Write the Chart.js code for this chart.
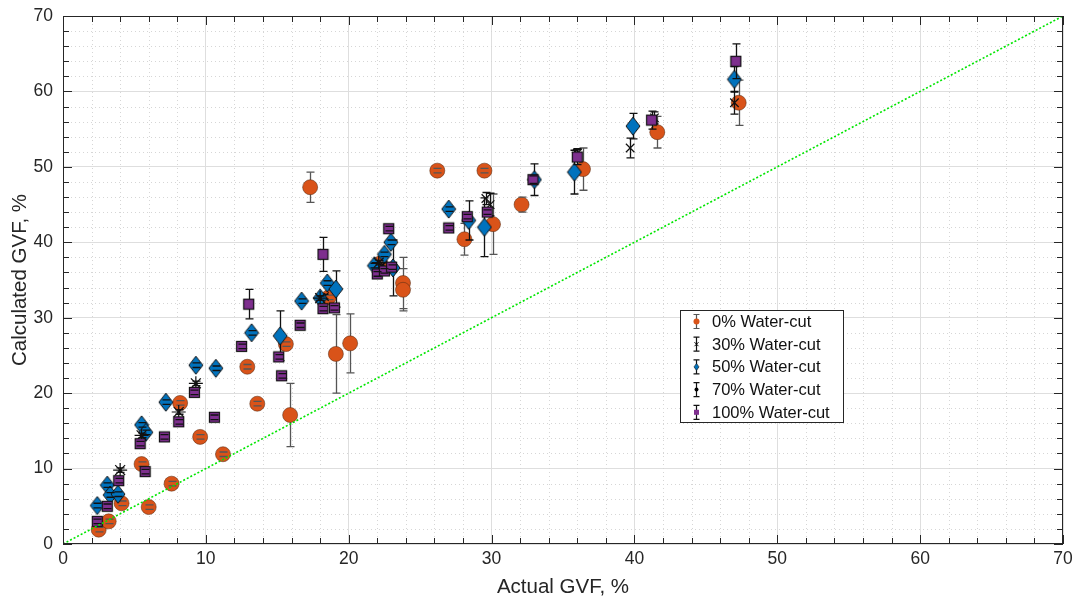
<!DOCTYPE html>
<html><head><meta charset="utf-8">
<script src="https://cdn.jsdelivr.net/npm/chart.js@4.4.1/dist/chart.umd.min.js"></script>
<style>html,body{margin:0;padding:0;background:#fff}#wrap{width:1077px;height:600px}</style>
</head><body><div id="wrap"><canvas id="c" width="1077" height="600"></canvas></div>
<script>
const xTicks=[0,10,20,30,40,50,60,70];
const yTicks=[0,10,20,30,40,50,60,70];
const seriesNames=['0% Water-cut','30% Water-cut','50% Water-cut','70% Water-cut','100% Water-cut'];

const wc0X=[2.5,3.2,4.1,6.0,7.6,5.5,11.2,9.6,8.2,13.6,15.9,12.9,15.6,19.1,20.1,17.3,18.6,22.2,23.8,23.8,26.2,29.5,32.1,28.1,30.1,36.4,41.6,47.3];
const wc0Y=[1.9,3.0,5.4,4.9,8.0,10.6,11.9,14.2,18.7,18.6,17.1,23.5,26.5,25.2,26.6,47.3,32.7,37.2,34.6,33.7,49.5,49.5,45.0,40.4,42.4,49.7,54.6,58.5];
const wc0Err=[0.3,0.3,0.3,0.3,0.3,0.3,0.3,0.3,0.3,0.3,4.2,0.3,0.3,5.2,3.9,2.0,0.3,0.3,3.4,2.8,0.3,0.3,1.0,2.1,4.0,2.8,2.1,3.0];

const wc30X=[18.3,22.4,29.6,29.9,36.0,39.7,41.4,47.0];
const wc30Y=[32.8,37.0,45.8,45.0,51.8,52.5,56.5,58.5];
const wc30Err=[0.3,0.3,0.8,1.5,0.6,1.3,0.8,1.5];

const wc50X=[2.4,3.1,3.3,3.85,5.5,5.8,7.2,9.3,10.7,13.2,15.2,16.7,18.5,19.1,18.0,21.8,22.5,22.95,23.1,27.0,28.4,29.5,33.0,35.8,39.9,47.0];
const wc50Y=[5.1,7.8,6.5,6.6,15.8,14.8,18.8,23.7,23.3,28.0,27.6,32.2,34.6,33.8,32.6,36.9,38.4,40.0,36.6,44.4,42.9,42.0,48.3,49.3,55.4,61.6];
const wc50Err=[0.3,0.3,0.3,0.3,0.3,0.3,0.3,0.3,0.3,0.3,3.3,0.3,0.3,2.4,0.3,0.3,0.3,0.3,3.7,0.3,2.6,3.9,2.1,2.9,1.7,1.7];

const wc70X=[4.0,5.5,8.1,9.3,18.0,22.1];
const wc70Y=[9.8,14.4,17.5,21.3,32.6,37.3];
const wc70Err=[0.3,0.3,0.3,0.3,0.3,0.3];

const wc100X=[2.4,3.1,3.9,5.75,5.4,7.1,8.1,9.2,10.6,12.5,13.0,15.1,15.3,16.6,18.2,18.2,19.0,22.0,22.5,22.8,23.0,27.0,28.3,29.7,32.9,36.0,41.2,47.1];
const wc100Y=[3.0,5.0,8.4,9.6,13.3,14.2,16.2,20.1,16.8,26.2,31.8,24.8,22.3,29.0,38.4,31.2,31.3,35.8,36.2,41.8,36.7,41.9,43.4,44.0,48.3,51.3,56.2,64.0];
const wc100Err=[0.3,0.3,0.3,0.3,0.3,0.3,0.3,0.3,0.3,0.3,1.95,0.3,0.3,0.3,2.25,0.3,0.3,0.3,0.3,0.3,0.3,0.3,0.3,0.3,0.5,1.0,1.2,2.3];

const diagX=[0,70], diagY=[0,70];

function pts(xs,ys){return xs.map((x,i)=>({x:x,y:ys[i]}));}

function makeDiamond(w,h,fill){const c=document.createElement('canvas');c.width=w+2;c.height=h+2;const g=c.getContext('2d');g.beginPath();g.moveTo(c.width/2,1);g.lineTo(c.width-1,c.height/2);g.lineTo(c.width/2,c.height-1);g.lineTo(1,c.height/2);g.closePath();g.fillStyle=fill;g.fill();g.strokeStyle='#111';g.lineWidth=1;g.stroke();return c;}
function makeSquare(s,fill){const c=document.createElement('canvas');c.width=s+2;c.height=s+2;const g=c.getContext('2d');g.fillStyle=fill;g.fillRect(1,1,s,s);g.strokeStyle='#111';g.lineWidth=1.2;g.strokeRect(1.5,1.5,s-1,s-1);return c;}

const diamondImg=makeDiamond(14,18,'#0072BD');
const squareImg=makeSquare(11,'#7E2F8E');

const ORANGE='#D95319', BLUE='#0072BD', PURPLE='#7E2F8E';
const FONT='"Liberation Sans", Arial, sans-serif';

function drawErr(chart,i,caps){
  const ds=chart.data.datasets[i]; if(!ds.err) return;
  const xs=chart.scales.x, ys=chart.scales.y, ctx=chart.ctx;
  ctx.save(); ctx.strokeStyle=ds.errColor; ctx.lineWidth=1.3; ctx.beginPath();
  ds.data.forEach((p,k)=>{const e=ds.err[k];const px=Math.round(xs.getPixelForValue(p.x))+0.5;
    const y1=ys.getPixelForValue(p.y+e), y2=ys.getPixelForValue(p.y-e);
    if(caps){ctx.moveTo(px-4,y1);ctx.lineTo(px+4,y1);ctx.moveTo(px-4,y2);ctx.lineTo(px+4,y2);}
    else{ctx.moveTo(px,y1);ctx.lineTo(px,y2);} });
  ctx.stroke(); ctx.restore();
}
const errPlugin={id:'err',
  beforeDatasetDraw(chart,args){drawErr(chart,args.index,false);},
  afterDatasetDraw(chart,args){drawErr(chart,args.index,true);}
};
const gridPlugin={id:'mgrid',
  beforeDatasetsDraw(chart){
    const ctx=chart.ctx, a=chart.chartArea, xs=chart.scales.x, ys=chart.scales.y;
    ctx.save(); ctx.strokeStyle='#d6d6d6'; ctx.lineWidth=1; ctx.setLineDash([1,3]);
    ctx.beginPath();
    for(let v=2;v<70;v+=2){ if(v%10===0) continue;
      const px=Math.round(xs.getPixelForValue(v))+0.5; ctx.moveTo(px,a.top); ctx.lineTo(px,a.bottom);
      const py=Math.round(ys.getPixelForValue(v))+0.5; ctx.moveTo(a.left,py); ctx.lineTo(a.right,py);}
    ctx.stroke(); ctx.restore();
  },
  afterDraw(chart){
    const ctx=chart.ctx, a=chart.chartArea, xs=chart.scales.x, ys=chart.scales.y;
    ctx.save(); ctx.strokeStyle='#262626'; ctx.lineWidth=1;
    ctx.strokeRect(Math.round(a.left)+0.5,Math.round(a.top)+0.5,Math.round(a.right-a.left)-1,Math.round(a.bottom-a.top)-1);
    ctx.beginPath();
    for(let v=0;v<=70;v+=2){const L=(v%10===0)?9:6;
      const px=Math.round(xs.getPixelForValue(v))+0.5;
      ctx.moveTo(px,a.bottom);ctx.lineTo(px,a.bottom-L);ctx.moveTo(px,a.top);ctx.lineTo(px,a.top+L);
      const py=Math.round(ys.getPixelForValue(v))+0.5;
      ctx.moveTo(a.left,py);ctx.lineTo(a.left+L,py);ctx.moveTo(a.right,py);ctx.lineTo(a.right-L,py);}
    ctx.stroke();
    // legend
    const bx=680.5, by=310.5, bw=163, bh=112;
    ctx.fillStyle='#fff'; ctx.fillRect(bx,by,bw,bh); ctx.strokeStyle='#262626'; ctx.strokeRect(bx,by,bw,bh);
    const cols=[ORANGE,'#000',BLUE,'#000',PURPLE];
    const shapes=['circle','x','diamond','dot','square'];
    ctx.font='16.5px '+FONT; ctx.textBaseline='middle';
    seriesNames.forEach((n,i)=>{const cy=by+11+i*22.7, cx=696.5;
      ctx.strokeStyle=i===0?'#555':'#111'; ctx.lineWidth=1.2; ctx.beginPath();
      ctx.moveTo(cx,cy-7);ctx.lineTo(cx,cy+7);ctx.moveTo(cx-3,cy-7);ctx.lineTo(cx+3,cy-7);ctx.moveTo(cx-3,cy+7);ctx.lineTo(cx+3,cy+7);ctx.stroke();
      ctx.fillStyle=cols[i]; ctx.beginPath();
      if(shapes[i]==='circle'){ctx.arc(cx,cy,3,0,Math.PI*2);ctx.fill();}
      else if(shapes[i]==='diamond'){ctx.moveTo(cx,cy-3.5);ctx.lineTo(cx+2.5,cy);ctx.lineTo(cx,cy+3.5);ctx.lineTo(cx-2.5,cy);ctx.closePath();ctx.fill();ctx.strokeStyle='#111';ctx.lineWidth=0.6;ctx.stroke();}
      else if(shapes[i]==='square'){ctx.fillRect(cx-2.5,cy-2.5,5,5);}
      else if(shapes[i]==='x'){ctx.strokeStyle='#000';ctx.lineWidth=1;ctx.moveTo(cx-2,cy-2);ctx.lineTo(cx+2,cy+2);ctx.moveTo(cx+2,cy-2);ctx.lineTo(cx-2,cy+2);ctx.stroke();}
      else {ctx.arc(cx,cy,2,0,Math.PI*2);ctx.fill();}
      ctx.fillStyle='#111'; ctx.fillText(n,712,cy+1);
    });
    ctx.restore();
  }
};

const tickFont={family:FONT,size:17.5};
new Chart(document.getElementById('c'),{
  type:'scatter',
  data:{datasets:[
    {label:seriesNames[0],data:pts(wc0X,wc0Y),err:wc0Err,errColor:'#555',pointStyle:'circle',pointRadius:7.5,pointHoverRadius:7.5,backgroundColor:ORANGE,borderColor:'rgba(90,45,20,0.55)',borderWidth:1,order:5},
    {label:seriesNames[1],data:pts(wc30X,wc30Y),err:wc30Err,errColor:'#111',pointStyle:'crossRot',pointRadius:6,pointHoverRadius:6,borderColor:'#111',borderWidth:1.2,order:4},
    {label:seriesNames[2],data:pts(wc50X,wc50Y),err:wc50Err,errColor:'#111',pointStyle:diamondImg,pointRadius:8,order:3},
    {label:seriesNames[3],data:pts(wc70X,wc70Y),err:wc70Err,errColor:'#111',pointStyle:'star',pointRadius:7,pointHoverRadius:7,borderColor:'#111',borderWidth:1.2,order:2},
    {label:seriesNames[4],data:pts(wc100X,wc100Y),err:wc100Err,errColor:'#111',pointStyle:squareImg,pointRadius:7,order:1},
    {type:'line',label:'y=x',data:pts(diagX,diagY),borderColor:'#00e600',borderWidth:1.6,borderDash:[2,2],pointRadius:0,fill:false,order:0}
  ]},
  options:{responsive:false,animation:false,devicePixelRatio:1,
    layout:{padding:{top:16,right:14,left:0,bottom:0}},
    plugins:{legend:{display:false},tooltip:{enabled:false}},
    scales:{
      x:{type:'linear',min:0,max:70,
        afterBuildTicks(s){s.ticks=xTicks.map(v=>({value:v}));},
        afterFit(s){s.height=56;s.paddingLeft=0;s.paddingRight=0;},
        ticks:{font:tickFont,color:'#262626',padding:5},
        grid:{color:'#dedede',drawTicks:false},border:{display:false},
        title:{display:true,text:'Actual GVF, %',color:'#262626',font:{family:FONT,size:20.5},padding:{top:5,bottom:0}}},
      y:{type:'linear',min:0,max:70,
        afterBuildTicks(s){s.ticks=yTicks.map(v=>({value:v}));},
        afterFit(s){s.width=63;s.paddingTop=0;s.paddingBottom=0;},
        ticks:{font:tickFont,color:'#262626',padding:10},
        grid:{color:'#dedede',drawTicks:false},border:{display:false},
        title:{display:true,text:'Calculated GVF, %',color:'#262626',font:{family:FONT,size:20.5},padding:{top:8,bottom:0}}}
    }
  },
  plugins:[gridPlugin,errPlugin]
});
</script></body></html>
